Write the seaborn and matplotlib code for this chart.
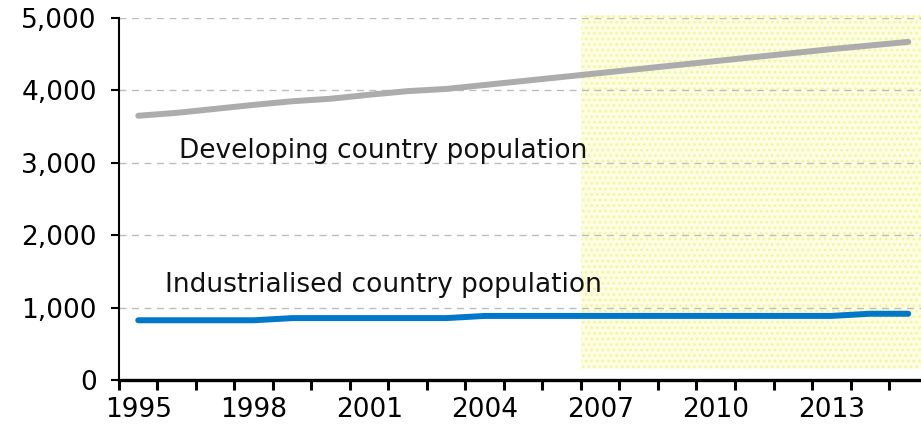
import matplotlib
matplotlib.use("Agg")
import matplotlib.pyplot as plt
from matplotlib.patches import Rectangle
from matplotlib.ticker import FuncFormatter, MultipleLocator, FixedLocator
import numpy as np
import pandas as pd
import seaborn as sns

# Population (millions), 1995-2015
years = list(range(1995, 2016))
developing = [3650, 3690, 3745, 3800, 3850, 3885, 3940, 3990, 4020, 4075, 4130,
              4185, 4240, 4295, 4350, 4405, 4460, 4515, 4570, 4620, 4670]
industrialised = [825, 825, 825, 825, 855, 855, 855, 855, 855, 885, 885,
                  885, 885, 885, 885, 885, 885, 885, 885, 915, 915]
series_names = ["Developing country population", "Industrialised country population"]
series_colors = ["#acacac", "#0077c8"]
year_labels = [1995, 1998, 2001, 2004, 2007, 2010, 2013]
projection_start = 2006.5

df = pd.DataFrame({
    "year": years * 2,
    "population": developing + industrialised,
    "series": [series_names[0]] * len(years) + [series_names[1]] * len(years),
})

sns.set_style("white")
plt.rcParams["font.family"] = ["DejaVu Sans"]
plt.rcParams["hatch.linewidth"] = 1.2

fig = plt.figure(figsize=(9.21, 4.36), dpi=100)
W, H = 921, 436
left_px, right_px, top_px, bottom_px = 119, 921, 18, 380
ax = fig.add_axes([left_px / W, 1 - bottom_px / H,
                   (right_px - left_px) / W, (bottom_px - top_px) / H])

x0 = 1994.5
x1 = x0 + (right_px - left_px) / 38.5
ax.set_xlim(x0, x1)
ax.set_ylim(0, 5000)

# shaded projection period
shade = Rectangle((projection_start, 150), x1 - projection_start + 1, 4890,
                  facecolor="#fdfde2", edgecolor="#f4f4a6", hatch="...",
                  linewidth=0, zorder=0.5, clip_on=False)
ax.add_patch(shade)

# dashed horizontal gridlines
for v in [1000, 2000, 3000, 4000, 5000]:
    ax.axhline(v, color="#bdbdbd", linewidth=1.0, dashes=(5, 4), zorder=1)

sns.lineplot(data=df, x="year", y="population", hue="series",
             palette=dict(zip(series_names, series_colors)),
             linewidth=4.3, legend=False, ax=ax, zorder=3,
             solid_capstyle="round")

ax.text(1996.05, 3070, series_names[0], fontsize=19, color="#111111",
        ha="left", va="baseline")
ax.text(1995.7, 1220, series_names[1], fontsize=19, color="#111111",
        ha="left", va="baseline")

ax.set_xlabel("")
ax.set_ylabel("")

for side in ["top", "right"]:
    ax.spines[side].set_visible(False)
ax.spines["left"].set_linewidth(1.5)
ax.spines["left"].set_color("black")
ax.spines["bottom"].set_linewidth(2.4)
ax.spines["bottom"].set_color("black")

ax.yaxis.set_major_locator(MultipleLocator(1000))
ax.yaxis.set_major_formatter(FuncFormatter(lambda v, p: f"{int(v):,}"))
ax.tick_params(axis="y", which="major", direction="out", length=6, width=1.5,
               labelsize=19, pad=10, left=True, colors="black")

ax.xaxis.set_major_locator(FixedLocator(year_labels))
ax.set_xticklabels([str(y) for y in year_labels])
ax.xaxis.set_minor_locator(FixedLocator(list(np.arange(x0, x1, 1.0))))
ax.tick_params(axis="x", which="major", length=0, labelsize=19, pad=12,
               colors="black")
ax.tick_params(axis="x", which="minor", direction="out", length=7, width=2.2,
               bottom=True, colors="black")

fig.savefig("out.png", dpi=100)
